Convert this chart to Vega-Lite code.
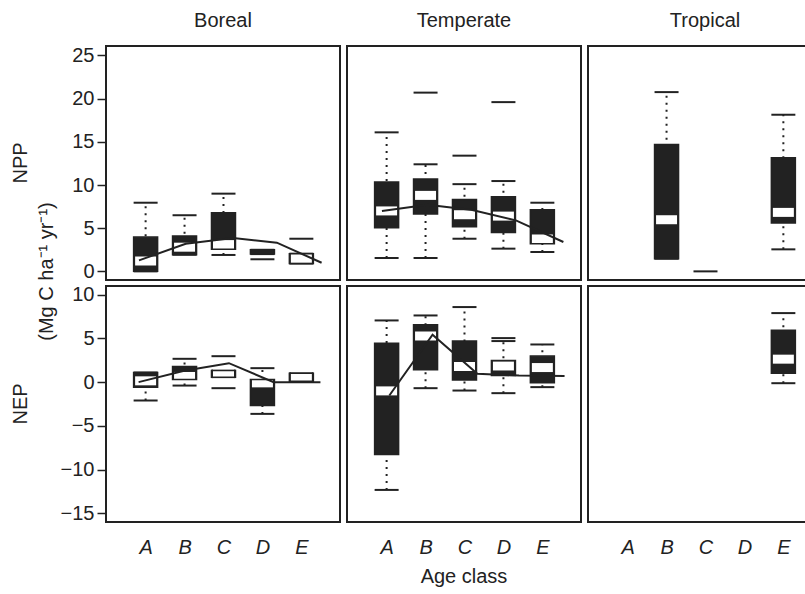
{
  "$schema": "https://vega.github.io/schema/vega-lite/v6.json",
  "padding": {"left": 11, "top": 11, "right": 0, "bottom": 0},
  "background": "white",
  "datasets": {
    "d": [
      {"k":"box","biome":"Boreal","var":"NPP","pos":1,"lo":0,"q1":0,"med":1.2,"q3":3.97,"hi":7.95},
      {"k":"box","biome":"Boreal","var":"NPP","pos":2,"lo":1.93,"q1":1.93,"med":2.8,"q3":4.1,"hi":6.5},
      {"k":"box","biome":"Boreal","var":"NPP","pos":3,"lo":1.9,"q1":2.55,"med":3.1,"q3":6.8,"hi":9.0},
      {"k":"box","biome":"Boreal","var":"NPP","pos":4,"lo":2.0,"q1":2.0,"med":null,"q3":2.5,"hi":2.5},
      {"k":"box","biome":"Boreal","var":"NPP","pos":5,"lo":0.9,"q1":0.9,"med":1.5,"q3":2.05,"hi":2.05},
      {"k":"out","biome":"Boreal","var":"NPP","pos":4,"value":1.4},
      {"k":"out","biome":"Boreal","var":"NPP","pos":5,"value":3.78},
      {"k":"box","biome":"Temperate","var":"NPP","pos":1,"lo":1.55,"q1":5.06,"med":7.0,"q3":10.35,"hi":16.1},
      {"k":"box","biome":"Temperate","var":"NPP","pos":2,"lo":1.55,"q1":6.64,"med":8.8,"q3":10.7,"hi":12.4},
      {"k":"box","biome":"Temperate","var":"NPP","pos":3,"lo":3.78,"q1":5.17,"med":6.56,"q3":8.33,"hi":10.1},
      {"k":"box","biome":"Temperate","var":"NPP","pos":4,"lo":2.63,"q1":4.51,"med":6.4,"q3":8.64,"hi":10.46},
      {"k":"box","biome":"Temperate","var":"NPP","pos":5,"lo":2.24,"q1":3.2,"med":3.75,"q3":7.14,"hi":7.95},
      {"k":"out","biome":"Temperate","var":"NPP","pos":2,"value":20.7},
      {"k":"out","biome":"Temperate","var":"NPP","pos":3,"value":13.4},
      {"k":"out","biome":"Temperate","var":"NPP","pos":4,"value":19.6},
      {"k":"box","biome":"Tropical","var":"NPP","pos":2,"lo":1.47,"q1":1.47,"med":5.98,"q3":14.7,"hi":20.76},
      {"k":"box","biome":"Tropical","var":"NPP","pos":5,"lo":2.55,"q1":5.6,"med":6.83,"q3":13.16,"hi":18.14},
      {"k":"out","biome":"Tropical","var":"NPP","pos":3,"value":0.0},
      {"k":"box","biome":"Boreal","var":"NEP","pos":1,"lo":-2.1,"q1":-0.57,"med":0.15,"q3":1.1,"hi":1.1},
      {"k":"box","biome":"Boreal","var":"NEP","pos":2,"lo":-0.39,"q1":0.3,"med":0.65,"q3":1.79,"hi":2.67},
      {"k":"box","biome":"Boreal","var":"NEP","pos":3,"lo":0.57,"q1":0.57,"med":0.95,"q3":1.33,"hi":1.33},
      {"k":"box","biome":"Boreal","var":"NEP","pos":4,"lo":-3.63,"q1":-2.68,"med":-0.08,"q3":0.3,"hi":1.6},
      {"k":"box","biome":"Boreal","var":"NEP","pos":5,"lo":0.11,"q1":0.11,"med":0.57,"q3":1.03,"hi":1.03},
      {"k":"out","biome":"Boreal","var":"NEP","pos":3,"value":2.97},
      {"k":"out","biome":"Boreal","var":"NEP","pos":3,"value":-0.69},
      {"k":"box","biome":"Temperate","var":"NEP","pos":1,"lo":-12.33,"q1":-8.29,"med":-1.0,"q3":4.46,"hi":7.06},
      {"k":"box","biome":"Temperate","var":"NEP","pos":2,"lo":-0.69,"q1":1.41,"med":5.28,"q3":6.56,"hi":7.63},
      {"k":"box","biome":"Temperate","var":"NEP","pos":3,"lo":-0.96,"q1":0.26,"med":1.79,"q3":4.7,"hi":8.59},
      {"k":"box","biome":"Temperate","var":"NEP","pos":4,"lo":-1.26,"q1":0.76,"med":1.85,"q3":2.47,"hi":4.7},
      {"k":"box","biome":"Temperate","var":"NEP","pos":5,"lo":-0.57,"q1":-0.08,"med":1.67,"q3":2.98,"hi":4.31},
      {"k":"out","biome":"Temperate","var":"NEP","pos":4,"value":5.04},
      {"k":"box","biome":"Tropical","var":"NEP","pos":5,"lo":-0.12,"q1":1.03,"med":2.63,"q3":5.95,"hi":7.9},
      {"k":"line","biome":"Boreal","var":"NPP","pos":0.83,"value":1.27},
      {"k":"line","biome":"Boreal","var":"NPP","pos":2.03,"value":3.2},
      {"k":"line","biome":"Boreal","var":"NPP","pos":3.25,"value":3.85},
      {"k":"line","biome":"Boreal","var":"NPP","pos":4.37,"value":3.32},
      {"k":"line","biome":"Boreal","var":"NPP","pos":5.52,"value":1.0},
      {"k":"line","biome":"Temperate","var":"NPP","pos":0.88,"value":7.0},
      {"k":"line","biome":"Temperate","var":"NPP","pos":2.05,"value":7.72},
      {"k":"line","biome":"Temperate","var":"NPP","pos":3.2,"value":7.1},
      {"k":"line","biome":"Temperate","var":"NPP","pos":4.32,"value":5.9},
      {"k":"line","biome":"Temperate","var":"NPP","pos":5.54,"value":3.4},
      {"k":"line","biome":"Boreal","var":"NEP","pos":0.82,"value":0.0},
      {"k":"line","biome":"Boreal","var":"NEP","pos":1.99,"value":1.3},
      {"k":"line","biome":"Boreal","var":"NEP","pos":3.14,"value":2.17},
      {"k":"line","biome":"Boreal","var":"NEP","pos":4.29,"value":0.0},
      {"k":"line","biome":"Boreal","var":"NEP","pos":5.49,"value":0.0},
      {"k":"line","biome":"Temperate","var":"NEP","pos":1.07,"value":-1.53},
      {"k":"line","biome":"Temperate","var":"NEP","pos":2.18,"value":5.42},
      {"k":"line","biome":"Temperate","var":"NEP","pos":3.33,"value":0.95},
      {"k":"line","biome":"Temperate","var":"NEP","pos":4.4,"value":0.76},
      {"k":"line","biome":"Temperate","var":"NEP","pos":5.57,"value":0.69}
    ]
  },
  "bounds": "flush",
  "spacing": 240,
  "vconcat": [
    {
      "data": {"name": "d"},
      "transform": [{"filter": "datum.var == 'NPP'"}],
      "facet": {
        "row": {"field": "var", "type": "nominal", "header": {"title": null, "labelAngle": -90, "labelOrient": "left", "labelPadding": -5}},
        "column": {"field": "biome", "type": "nominal", "sort": ["Boreal", "Temperate", "Tropical"], "header": {"title": null, "labelOrient": "top", "labelPadding": 14}}
      },
      "spacing": {"row": 0, "column": 5},
      "spec": {
        "width": 234,
        "height": 234,
        "encoding": {
          "x": {"field": "pos", "type": "quantitative", "scale": {"domain": [0.111, 5.864], "nice": false, "zero": false}, "axis": null}
        },
        "layer": [
          {
            "transform": [{"filter": "datum.k == 'box'"}],
            "mark": {"type": "rule", "strokeDash": [2, 5], "strokeWidth": 2, "color": "#222"},
            "encoding": {
              "y": {"field": "lo", "type": "quantitative", "title": "(Mg C ha⁻¹ yr⁻¹)", "scale": {"domain": [-1, 26.1], "nice": false, "zero": false},
                    "axis": {"values": [0, 5, 10, 15, 20, 25], "titleY": 225}},
              "y2": {"field": "hi"}
            }
          },
          {
            "transform": [{"filter": "datum.k == 'box'"}],
            "mark": {"type": "tick", "orient": "horizontal", "size": 24, "thickness": 2, "color": "#222", "opacity": 1},
            "encoding": {
              "y": {"field": "lo", "type": "quantitative", "title": "(Mg C ha⁻¹ yr⁻¹)", "scale": {"domain": [-1, 26.1], "nice": false, "zero": false},
                    "axis": {"values": [0, 5, 10, 15, 20, 25], "titleY": 225}}
            }
          },
          {
            "transform": [{"filter": "datum.k == 'box'"}],
            "mark": {"type": "tick", "orient": "horizontal", "size": 24, "thickness": 2, "color": "#222", "opacity": 1},
            "encoding": {
              "y": {"field": "hi", "type": "quantitative", "title": "(Mg C ha⁻¹ yr⁻¹)", "scale": {"domain": [-1, 26.1], "nice": false, "zero": false},
                    "axis": {"values": [0, 5, 10, 15, 20, 25], "titleY": 225}}
            }
          },
          {
            "transform": [{"filter": "datum.k == 'box'"}],
            "mark": {"type": "bar", "color": "#222", "width": 24, "opacity": 1},
            "encoding": {
              "y": {"field": "q1", "type": "quantitative", "title": "(Mg C ha⁻¹ yr⁻¹)", "scale": {"domain": [-1, 26.1], "nice": false, "zero": false},
                    "axis": {"values": [0, 5, 10, 15, 20, 25], "titleY": 225}},
              "y2": {"field": "q3"}
            }
          },
          {
            "transform": [{"filter": "datum.k == 'box'"}],
            "mark": {"type": "tick", "orient": "horizontal", "size": 21, "thickness": 9, "color": "white", "opacity": 1},
            "encoding": {
              "y": {"field": "med", "type": "quantitative", "title": "(Mg C ha⁻¹ yr⁻¹)", "scale": {"domain": [-1, 26.1], "nice": false, "zero": false},
                    "axis": {"values": [0, 5, 10, 15, 20, 25], "titleY": 225}}
            }
          },
          {
            "transform": [{"filter": "datum.k == 'box'"}],
            "mark": {"type": "bar", "fill": "transparent", "stroke": "#222", "strokeWidth": 1.5, "width": 24},
            "encoding": {
              "y": {"field": "q1", "type": "quantitative", "title": "(Mg C ha⁻¹ yr⁻¹)", "scale": {"domain": [-1, 26.1], "nice": false, "zero": false},
                    "axis": {"values": [0, 5, 10, 15, 20, 25], "titleY": 225}},
              "y2": {"field": "q3"}
            }
          },
          {
            "transform": [{"filter": "datum.k == 'out'"}],
            "mark": {"type": "tick", "orient": "horizontal", "size": 24, "thickness": 2, "color": "#222", "opacity": 1},
            "encoding": {
              "y": {"field": "value", "type": "quantitative", "title": "(Mg C ha⁻¹ yr⁻¹)", "scale": {"domain": [-1, 26.1], "nice": false, "zero": false},
                    "axis": {"values": [0, 5, 10, 15, 20, 25], "titleY": 225}}
            }
          },
          {
            "transform": [{"filter": "datum.k == 'line'"}],
            "mark": {"type": "line", "color": "#222", "strokeWidth": 2},
            "encoding": {
              "y": {"field": "value", "type": "quantitative", "title": "(Mg C ha⁻¹ yr⁻¹)", "scale": {"domain": [-1, 26.1], "nice": false, "zero": false},
                    "axis": {"values": [0, 5, 10, 15, 20, 25], "titleY": 225}}
            }
          }
        ]
      }
    },
    {
      "data": {"name": "d"},
      "transform": [{"filter": "datum.var == 'NEP'"}],
      "facet": {
        "row": {"field": "var", "type": "nominal", "header": {"title": null, "labelAngle": -90, "labelOrient": "left", "labelPadding": -5}},
        "column": {"field": "biome", "type": "nominal", "sort": ["Boreal", "Temperate", "Tropical"], "title": "Age class", "header": {"labels": false, "titleOrient": "bottom", "titlePadding": 0}}
      },
      "spacing": {"row": 0, "column": 5},
      "spec": {
        "width": 234,
        "height": 236,
        "encoding": {
          "x": {"field": "pos", "type": "quantitative", "title": null, "scale": {"domain": [0.111, 5.864], "nice": false, "zero": false},
                "axis": {"values": [1, 2, 3, 4, 5], "labelExpr": "['A','B','C','D','E'][datum.value - 1]", "ticks": false, "labelAngle": 0, "labelPadding": 14, "labelFontStyle": "italic"}}
        },
        "layer": [
          {
            "transform": [{"filter": "datum.k == 'box'"}],
            "mark": {"type": "rule", "strokeDash": [2, 5], "strokeWidth": 2, "color": "#222"},
            "encoding": {
              "y": {"field": "lo", "type": "quantitative", "title": "(Mg C ha⁻¹ yr⁻¹)", "scale": {"domain": [-16, 11], "nice": false, "zero": false},
                    "axis": {"values": [-15, -10, -5, 0, 5, 10], "titleOpacity": 0}},
              "y2": {"field": "hi"}
            }
          },
          {
            "transform": [{"filter": "datum.k == 'box'"}],
            "mark": {"type": "tick", "orient": "horizontal", "size": 24, "thickness": 2, "color": "#222", "opacity": 1},
            "encoding": {
              "y": {"field": "lo", "type": "quantitative", "title": "(Mg C ha⁻¹ yr⁻¹)", "scale": {"domain": [-16, 11], "nice": false, "zero": false},
                    "axis": {"values": [-15, -10, -5, 0, 5, 10], "titleOpacity": 0}}
            }
          },
          {
            "transform": [{"filter": "datum.k == 'box'"}],
            "mark": {"type": "tick", "orient": "horizontal", "size": 24, "thickness": 2, "color": "#222", "opacity": 1},
            "encoding": {
              "y": {"field": "hi", "type": "quantitative", "title": "(Mg C ha⁻¹ yr⁻¹)", "scale": {"domain": [-16, 11], "nice": false, "zero": false},
                    "axis": {"values": [-15, -10, -5, 0, 5, 10], "titleOpacity": 0}}
            }
          },
          {
            "transform": [{"filter": "datum.k == 'box'"}],
            "mark": {"type": "bar", "color": "#222", "width": 24, "opacity": 1},
            "encoding": {
              "y": {"field": "q1", "type": "quantitative", "title": "(Mg C ha⁻¹ yr⁻¹)", "scale": {"domain": [-16, 11], "nice": false, "zero": false},
                    "axis": {"values": [-15, -10, -5, 0, 5, 10], "titleOpacity": 0}},
              "y2": {"field": "q3"}
            }
          },
          {
            "transform": [{"filter": "datum.k == 'box'"}],
            "mark": {"type": "tick", "orient": "horizontal", "size": 21, "thickness": 9, "color": "white", "opacity": 1},
            "encoding": {
              "y": {"field": "med", "type": "quantitative", "title": "(Mg C ha⁻¹ yr⁻¹)", "scale": {"domain": [-16, 11], "nice": false, "zero": false},
                    "axis": {"values": [-15, -10, -5, 0, 5, 10], "titleOpacity": 0}}
            }
          },
          {
            "transform": [{"filter": "datum.k == 'box'"}],
            "mark": {"type": "bar", "fill": "transparent", "stroke": "#222", "strokeWidth": 1.5, "width": 24},
            "encoding": {
              "y": {"field": "q1", "type": "quantitative", "title": "(Mg C ha⁻¹ yr⁻¹)", "scale": {"domain": [-16, 11], "nice": false, "zero": false},
                    "axis": {"values": [-15, -10, -5, 0, 5, 10], "titleOpacity": 0}},
              "y2": {"field": "q3"}
            }
          },
          {
            "transform": [{"filter": "datum.k == 'out'"}],
            "mark": {"type": "tick", "orient": "horizontal", "size": 24, "thickness": 2, "color": "#222", "opacity": 1},
            "encoding": {
              "y": {"field": "value", "type": "quantitative", "title": "(Mg C ha⁻¹ yr⁻¹)", "scale": {"domain": [-16, 11], "nice": false, "zero": false},
                    "axis": {"values": [-15, -10, -5, 0, 5, 10], "titleOpacity": 0}}
            }
          },
          {
            "transform": [{"filter": "datum.k == 'line'"}],
            "mark": {"type": "line", "color": "#222", "strokeWidth": 2},
            "encoding": {
              "y": {"field": "value", "type": "quantitative", "title": "(Mg C ha⁻¹ yr⁻¹)", "scale": {"domain": [-16, 11], "nice": false, "zero": false},
                    "axis": {"values": [-15, -10, -5, 0, 5, 10], "titleOpacity": 0}}
            }
          }
        ]
      }
    }
  ],
  "config": {
    "font": "Liberation Sans",
    "view": {"stroke": "#222", "strokeWidth": 2},
    "axis": {"grid": false, "domain": false, "labelFontSize": 20, "labelColor": "#222", "tickColor": "#222", "tickWidth": 1.5, "titleFontSize": 20, "titleFontWeight": "normal", "titleColor": "#222", "labelFont": "Liberation Sans", "titleFont": "Liberation Sans"},
    "axisY": {"tickSize": 8, "labelPadding": 3, "titlePadding": 3, "minExtent": 46, "maxExtent": 46},
    "header": {"labelFontSize": 20, "labelColor": "#222", "titleFontSize": 20, "titleFontWeight": "normal", "titleColor": "#222", "labelFont": "Liberation Sans", "titleFont": "Liberation Sans"}
  }
}
